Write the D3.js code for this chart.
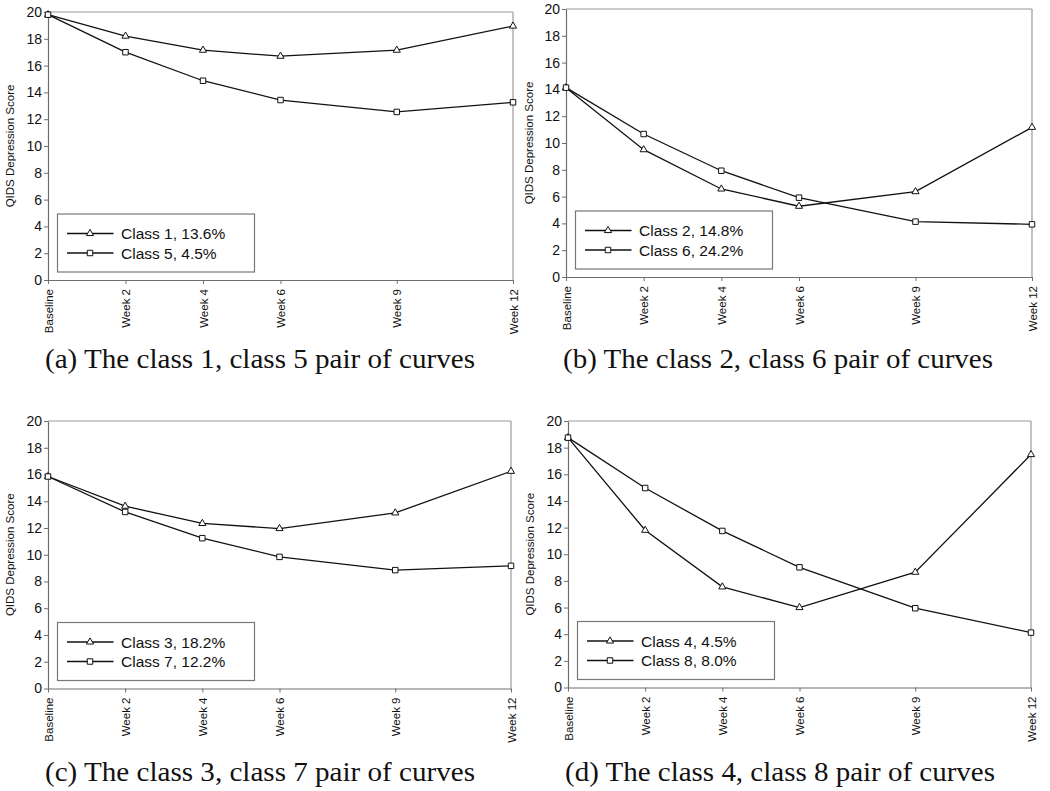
<!DOCTYPE html>
<html>
<head>
<meta charset="utf-8">
<script src="https://cdn.jsdelivr.net/npm/d3@7"></script>
<style>
  html, body { margin: 0; padding: 0; background: #fff; }
  svg { display: block; }
</style>
</head>
<body>
<svg id="chart" width="1050" height="791"></svg>
<script>
// ---- data ----
const weeks = [0, 2, 4, 6, 9, 12];
const weekLabels = ["Baseline", "Week 2", "Week 4", "Week 6", "Week 9", "Week 12"];
const yTicks = [0, 2, 4, 6, 8, 10, 12, 14, 16, 18, 20];
const yLabel = "QIDS Depression Score";

const class1 = [19.8, 18.2, 17.15, 16.7, 17.15, 18.95];
const class5 = [19.8, 17.0, 14.87, 13.43, 12.54, 13.26];
const class2 = [14.13, 9.5, 6.57, 5.28, 6.37, 11.17];
const class6 = [14.13, 10.67, 7.93, 5.92, 4.13, 3.93];
const class3 = [15.85, 13.63, 12.34, 11.96, 13.13, 16.24];
const class7 = [15.85, 13.2, 11.24, 9.84, 8.85, 9.17];
const class4 = [18.75, 11.8, 7.55, 6.0, 8.65, 17.48];
const class8 = [18.75, 14.97, 11.75, 9.02, 5.95, 4.12];

const legendA = ["Class 1, 13.6%", "Class 5, 4.5%"];
const legendB = ["Class 2, 14.8%", "Class 6, 24.2%"];
const legendC = ["Class 3, 18.2%", "Class 7, 12.2%"];
const legendD = ["Class 4, 4.5%", "Class 8, 8.0%"];

const captions = [
  "(a) The class 1, class 5 pair of curves",
  "(b) The class 2, class 6 pair of curves",
  "(c) The class 3, class 7 pair of curves",
  "(d) The class 4, class 8 pair of curves"
];

// ---- layout ----
const panels = [
  { l: 48,  r: 513,  t: 12,  b: 280,   tri: class1, sq: class5, legend: legendA, caption: captions[0], ylx: 10,  capY: 368 },
  { l: 566, r: 1032, t: 9,   b: 277,   tri: class2, sq: class6, legend: legendB, caption: captions[1], ylx: 529, capY: 368 },
  { l: 48,  r: 511,  t: 421, b: 688.5, tri: class3, sq: class7, legend: legendC, caption: captions[2], ylx: 10,  capY: 781 },
  { l: 568, r: 1031, t: 421, b: 687.5, tri: class4, sq: class8, legend: legendD, caption: captions[3], ylx: 530, capY: 781 }
];

const svg = d3.select("#chart");
const sansFont = "'Liberation Sans', Arial, sans-serif";
const axisColor = "#6e6e6e";
const borderColor = "#9a9a9a";

const triSym = d3.symbol().type(d3.symbolTriangle).size(22);
const sqSym = d3.symbol().type(d3.symbolSquare).size(30);

panels.forEach(p => {
  const g = svg.append("g");
  const x = d3.scaleLinear().domain([0, 12]).range([p.l, p.r]);
  const y = d3.scaleLinear().domain([0, 20]).range([p.b, p.t]);

  // border top/right
  g.append("line").attr("x1", p.l).attr("x2", p.r).attr("y1", p.t).attr("y2", p.t)
    .attr("stroke", borderColor).attr("stroke-width", 1.2);
  g.append("line").attr("x1", p.r).attr("x2", p.r).attr("y1", p.t).attr("y2", p.b)
    .attr("stroke", borderColor).attr("stroke-width", 1.2);

  // y axis
  const ya = g.append("g").attr("transform", `translate(${p.l},0)`)
    .call(d3.axisLeft(y).tickValues(yTicks).tickSize(4).tickSizeOuter(0).tickPadding(2));
  ya.select(".domain").attr("stroke", axisColor).attr("stroke-width", 1.2);
  ya.selectAll(".tick line").attr("stroke", axisColor);
  ya.selectAll("text").attr("font-family", sansFont).attr("font-size", 14).attr("fill", "#111");

  // x axis
  const xa = g.append("g").attr("transform", `translate(0,${p.b})`)
    .call(d3.axisBottom(x).tickValues(weeks).tickFormat((d, i) => weekLabels[i]).tickSize(4).tickSizeOuter(0));
  xa.select(".domain").attr("stroke", axisColor).attr("stroke-width", 1.2);
  xa.selectAll(".tick line").attr("stroke", axisColor);
  xa.selectAll("text")
    .attr("font-family", sansFont).attr("font-size", 11.5).attr("fill", "#111")
    .attr("y", 0).attr("x", -9).attr("dy", "0.35em")
    .attr("transform", "rotate(-90)")
    .style("text-anchor", "end");

  // y label
  g.append("text")
    .attr("transform", `translate(${p.ylx},${(p.t + p.b) / 2}) rotate(-90)`)
    .attr("text-anchor", "middle").attr("dy", "0.35em")
    .attr("font-family", sansFont).attr("font-size", 11.5).attr("fill", "#111")
    .text(yLabel);

  // lines
  const line = d3.line().x((d, i) => x(weeks[i])).y(d => y(d));
  [p.tri, p.sq].forEach(series => {
    g.append("path").datum(series).attr("d", line)
      .attr("fill", "none").attr("stroke", "#111").attr("stroke-width", 1.3);
  });
  // markers
  g.selectAll(".tri").data(p.tri).enter().append("path")
    .attr("d", triSym)
    .attr("transform", (d, i) => `translate(${x(weeks[i])},${y(d)})`)
    .attr("fill", "#fff").attr("stroke", "#111").attr("stroke-width", 1);
  g.selectAll(".sq").data(p.sq).enter().append("path")
    .attr("d", sqSym)
    .attr("transform", (d, i) => `translate(${x(weeks[i])},${y(d)})`)
    .attr("fill", "#fff").attr("stroke", "#111").attr("stroke-width", 1);

  // legend
  const lx = p.l + 9.5, lyBottom = p.b - 8, lw = 197, lh = 58;
  const ly = lyBottom - lh;
  const lg = g.append("g");
  lg.append("rect").attr("x", lx).attr("y", ly).attr("width", lw).attr("height", lh)
    .attr("fill", "#fff").attr("stroke", "#777").attr("stroke-width", 1.2);
  const syms = [triSym, sqSym];
  p.legend.forEach((lab, i) => {
    const cy = ly + 19.5 + i * 19.5;
    lg.append("line").attr("x1", lx + 9.5).attr("x2", lx + 56).attr("y1", cy).attr("y2", cy)
      .attr("stroke", "#111").attr("stroke-width", 1.3);
    lg.append("path").attr("d", syms[i]).attr("transform", `translate(${lx + 32.5},${cy})`)
      .attr("fill", "#fff").attr("stroke", "#111").attr("stroke-width", 1);
    lg.append("text").attr("x", lx + 63.5).attr("y", cy).attr("dy", "0.36em")
      .attr("font-family", sansFont).attr("font-size", 15.5).attr("fill", "#111")
      .text(lab);
  });

  // caption
  g.append("text").attr("x", p.l - 3).attr("y", p.capY)
    .attr("font-family", "'Liberation Serif', 'Times New Roman', serif")
    .attr("font-size", 26.5).attr("fill", "#111")
    .attr("textLength", 430).attr("lengthAdjust", "spacingAndGlyphs")
    .text(p.caption);
});
</script>
</body>
</html>
